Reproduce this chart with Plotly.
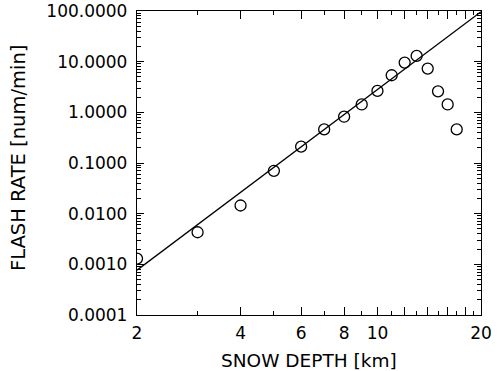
import numpy as np
import plotly.graph_objects as go

# Data
depth = [2, 3, 4, 5, 6, 7, 8, 9, 10, 11, 12, 13, 14, 15, 16, 17]
rate = [0.0013, 0.0043, 0.0145, 0.070, 0.21, 0.46, 0.82, 1.43, 2.65,
        5.4, 9.6, 13.0, 7.3, 2.6, 1.43, 0.46]

# Power-law fit: rate = fit_coef * depth ** fit_exp
fit_coef = 2.24e-5
fit_exp = 5.1

x_tickvals = [2, 4, 6, 8, 10, 12, 14, 16, 18, 20]
x_ticktext = ["2", "4", "6", "8", "10", "", "", "", "", "20"]
x_minor = [3, 5, 7, 9, 11, 13, 15, 17, 19]

y_tickvals = [0.0001, 0.001, 0.01, 0.1, 1, 10, 100]
y_ticktext = ["0.0001", "0.0010", "0.0100", "0.1000", "1.0000", "10.0000", "100.0000"]
y_minor = [m * d for d in [0.0001, 0.001, 0.01, 0.1, 1, 10] for m in range(2, 10)]

x_title = "SNOW DEPTH [km]"
y_title = "FLASH RATE [num/min]"

xfit = np.logspace(np.log10(2), np.log10(20), 50)
yfit = fit_coef * xfit ** fit_exp

FONT = "DejaVu Sans"

fig = go.Figure()
fig.add_trace(go.Scatter(x=xfit, y=yfit, mode="lines",
                         line=dict(color="black", width=1.3),
                         showlegend=False, hoverinfo="skip"))
fig.add_trace(go.Scatter(x=depth, y=rate, mode="markers",
                         marker=dict(symbol="circle-open", size=11, color="black",
                                     line=dict(color="black", width=1.3)),
                         showlegend=False))

axis_common = dict(
    showgrid=False, zeroline=False, showline=True, linecolor="black", linewidth=1.3,
    mirror="allticks", ticks="inside", tickcolor="black", tickwidth=1,
    tickfont=dict(family=FONT, size=17, color="black"), automargin=False,
)

fig.update_layout(
    width=497, height=371,
    margin=dict(l=137, r=16, t=11, b=56),
    paper_bgcolor="white", plot_bgcolor="white",
    font=dict(family=FONT, color="black"),
    xaxis=dict(
        type="log", range=[np.log10(2), np.log10(20)],
        tickmode="array", tickvals=x_tickvals, ticktext=x_ticktext, ticklen=8,
        minor=dict(tickmode="array", tickvals=x_minor, ticklen=4, ticks="inside",
                   tickcolor="black", tickwidth=1, showgrid=False),
        ticklabelstandoff=2,
        **axis_common,
    ),
    yaxis=dict(
        type="log", range=[-4, 2],
        tickmode="array", tickvals=y_tickvals, ticktext=y_ticktext, ticklen=7,
        minor=dict(tickmode="array", tickvals=y_minor, ticklen=4, ticks="inside",
                   tickcolor="black", tickwidth=1, showgrid=False),
        ticklabelstandoff=5,
        **axis_common,
    ),
    annotations=[
        dict(text=x_title, xref="paper", yref="paper", x=0.5, y=0,
             xanchor="center", yanchor="middle", yshift=-45, showarrow=False,
             font=dict(family=FONT, size=18.5, color="black")),
        dict(text=y_title, xref="paper", yref="paper", x=0, y=0.5,
             xanchor="center", yanchor="middle", xshift=-119, yshift=5,
             textangle=-90, showarrow=False,
             font=dict(family=FONT, size=19.5, color="black")),
    ],
)

fig.write_html("out.html")
